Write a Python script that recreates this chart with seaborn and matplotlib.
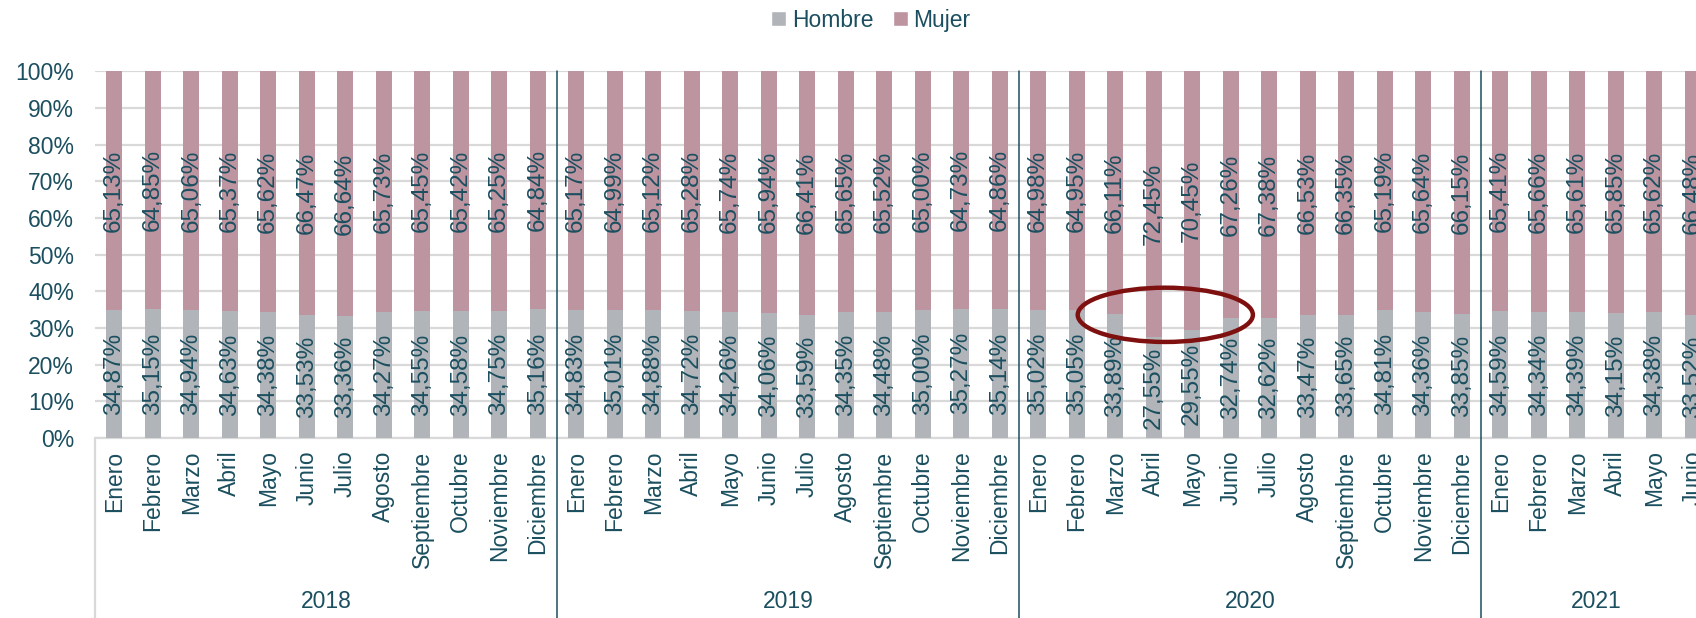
import matplotlib
matplotlib.use("Agg")
import matplotlib.pyplot as plt
import seaborn as sns
import pandas as pd
from matplotlib.patches import Ellipse, Patch

years = ["2018", "2019", "2020", "2021"]
months = ["Enero", "Febrero", "Marzo", "Abril", "Mayo", "Junio", "Julio",
          "Agosto", "Septiembre", "Octubre", "Noviembre", "Diciembre"]
months_per_year = [12, 12, 12, 6]

hombre = [34.87, 35.15, 34.94, 34.63, 34.38, 33.53, 33.36, 34.27, 34.55, 34.58, 34.75, 35.16,
          34.83, 35.01, 34.88, 34.72, 34.26, 34.06, 33.59, 34.35, 34.48, 35.00, 35.27, 35.14,
          35.02, 35.05, 33.89, 27.55, 29.55, 32.74, 32.62, 33.47, 33.65, 34.81, 34.36, 33.85,
          34.59, 34.34, 34.39, 34.15, 34.38, 33.52]
mujer = [65.13, 64.85, 65.06, 65.37, 65.62, 66.47, 66.64, 65.73, 65.45, 65.42, 65.25, 64.84,
         65.17, 64.99, 65.12, 65.28, 65.74, 65.94, 66.41, 65.65, 65.52, 65.00, 64.73, 64.86,
         64.98, 64.95, 66.11, 72.45, 70.45, 67.26, 67.38, 66.53, 66.35, 65.19, 65.64, 66.15,
         65.41, 65.66, 65.61, 65.85, 65.62, 66.48]

rows = []
for y, n in zip(years, months_per_year):
    for m in months[:n]:
        rows.append((y, m))
df = pd.DataFrame(rows, columns=["year", "month"])
df["key"] = df["year"] + "-" + df["month"]
df["Hombre"] = hombre
df["Mujer"] = mujer

TEXT = "#1B4F5F"
GREY = "#B1B5B9"
PINK = "#BD95A1"
GRID = "#D9D9D9"

sns.set_theme(style="white")
plt.rcParams["font.family"] = ["Liberation Sans", "DejaVu Sans"]

W, H = 1696, 618
fig = plt.figure(figsize=(W / 100, H / 100), dpi=100)
n = len(df)
left_px, right_px = 95, 95 + n * 38.5
top_px, bot_px = 71.4, 438
ax = fig.add_axes([left_px / W, 1 - bot_px / H, (right_px - left_px) / W, (bot_px - top_px) / H])

order = list(df["key"])
sns.barplot(data=df, x="key", y="Hombre", order=order, color=GREY, width=0.42,
            saturation=1, ax=ax, zorder=3, linewidth=0)
sns.barplot(data=df, x="key", y="Mujer", order=order, color=PINK, width=0.42,
            saturation=1, ax=ax, zorder=3, linewidth=0, bottom=df["Hombre"].values)

ax.set_xlim(-0.5, n - 0.5)
ax.set_ylim(0, 100)
ax.set_yticks(range(0, 101, 10))
ax.set_yticklabels([f"{v}%" for v in range(0, 101, 10)], fontsize=16.5, color=TEXT)
ax.yaxis.grid(True, color=GRID, linewidth=1.6, zorder=0)
ax.set_axisbelow(True)
for s in ax.spines.values():
    s.set_visible(False)
ax.tick_params(axis="y", length=0, pad=15)
ax.tick_params(axis="x", length=0, pad=9)
ax.set_xticks(range(n))
ax.set_xticklabels(df["month"], rotation=90, fontsize=16.5, color=TEXT, va="top")
ax.set_xlabel("")
ax.set_ylabel("")

# data labels
for i, (h, m) in enumerate(zip(hombre, mujer)):
    ax.text(i, h / 2, f"{h:.2f}%".replace(".", ","), rotation=90, ha="center", va="center",
            fontsize=17.5, color=TEXT, zorder=5)
    ax.text(i, h + m / 2, f"{m:.2f}%".replace(".", ","), rotation=90, ha="center", va="center",
            fontsize=17.5, color=TEXT, zorder=5)

# baseline and group separators
ax.plot([-0.5, n - 0.5], [0, 0], color=GRID, linewidth=1.6, zorder=2, clip_on=False)
ax.plot([-0.5, -0.5], [0, -60], color=GRID, linewidth=1.6, clip_on=False)
start = 0
for y, cnt in zip(years, months_per_year):
    if start > 0:
        ax.plot([start - 0.5, start - 0.5], [100, -60], color=TEXT, linewidth=1.1,
                clip_on=False, zorder=4)
    center = start + (cnt - 1) / 2
    ax.text(center, -44.5, y, ha="center", va="center", fontsize=16.5, color=TEXT, clip_on=False)
    start += cnt

# highlight ellipse around Mar-Jun 2020
e_idx = months_per_year[0] + months_per_year[1]
ell = Ellipse((e_idx + 3.3, 33.6), width=4.55, height=14.8, fill=False,
              edgecolor="#7F1010", linewidth=3.2, zorder=6, clip_on=False)
ax.add_patch(ell)

handles = [Patch(facecolor=GREY, label="Hombre"), Patch(facecolor=PINK, label="Mujer")]
fig.legend(handles=handles, loc="center", bbox_to_anchor=(0.5136, 0.967), ncol=2, frameon=False,
           fontsize=16.5, labelcolor=TEXT, handlelength=0.65, handleheight=0.65,
           handletextpad=0.25, columnspacing=0.85)

fig.savefig("out.png", dpi=100)
